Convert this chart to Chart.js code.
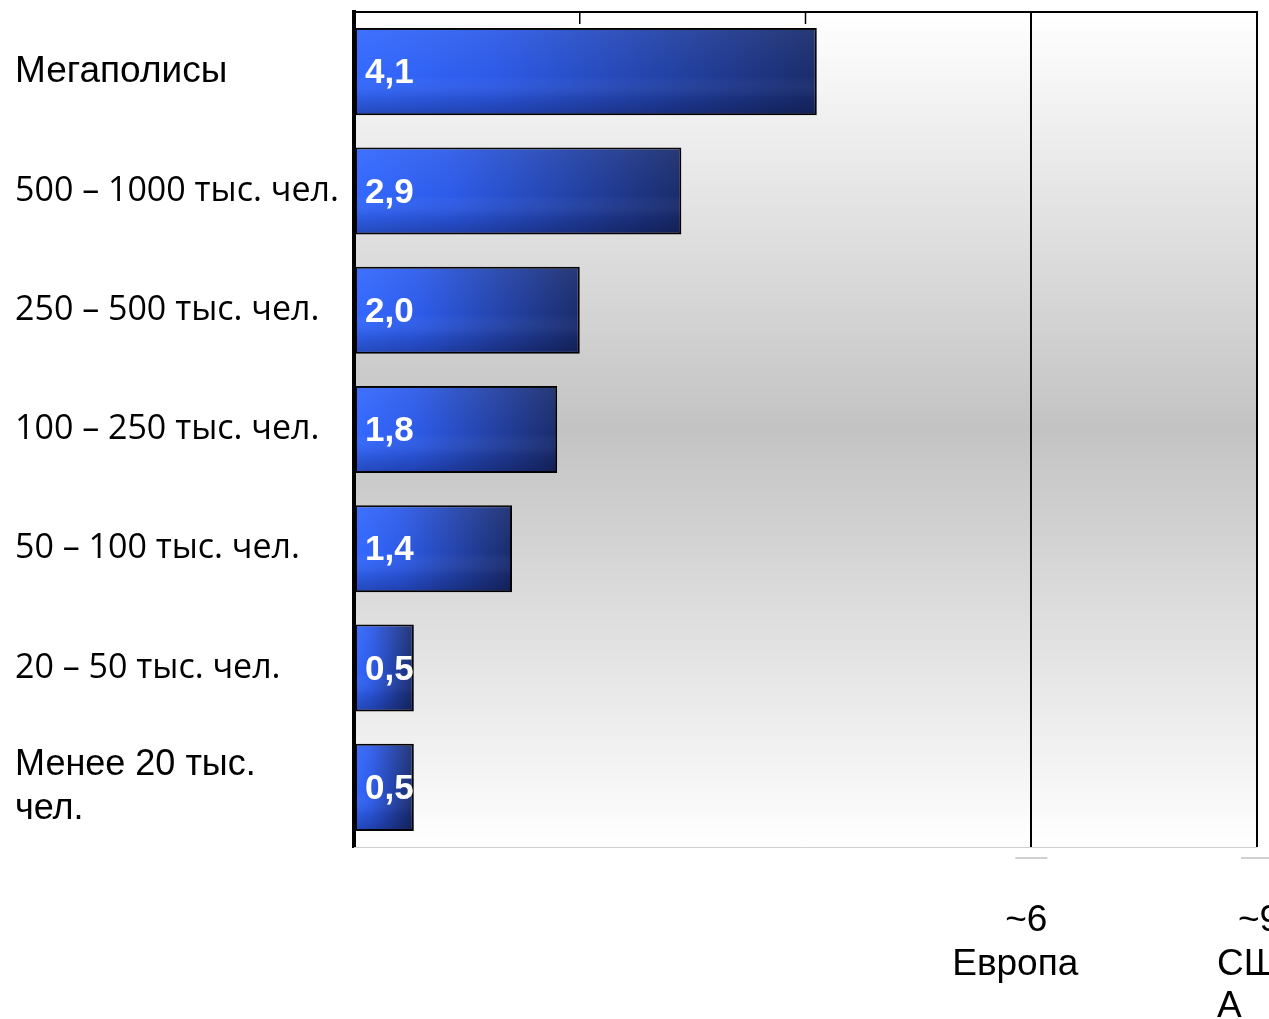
<!DOCTYPE html>
<html>
<head>
<meta charset="utf-8">
<script src="https://cdn.jsdelivr.net/npm/chart.js@4/dist/chart.umd.min.js"></script>
<style>
  html, body { margin: 0; padding: 0; background: #fff; }
  #wrap { width: 1269px; height: 1019px; position: relative; }
</style>
</head>
<body>
<div id="wrap"><canvas id="chart"></canvas></div>
<script>
// data
const categories = [
    'Мегаполисы',
    '500 – 1000 тыс. чел.',
    '250 – 500 тыс. чел.',
    '100 – 250 тыс. чел.',
    '50 – 100 тыс. чел.',
    '20 – 50 тыс. чел.',
    ['Менее 20 тыс.', 'чел.'],
];
// bar lengths as drawn (the two small bars are drawn a bit longer than 0,5)
const values = [4.1, 2.9, 2.0, 1.8, 1.4, 0.53, 0.53];
const valueLabels = ['4,1', '2,9', '2,0', '1,8', '1,4', '0,5', '0,5'];
const axisTicks = [2, 4, 6];
const refValues = [6, 8];          // vertical reference lines (Europe, right edge = USA)
const refLabels = [['~6', 'Европа'], ['~9', 'СШ', 'А']];

// plot background: white -> gray -> white
const plotBackground = {
    id: 'plotBackground',
    beforeDraw(chart) {
        const { ctx, chartArea: a } = chart;
        const g = ctx.createLinearGradient(0, a.top, 0, a.bottom);
        g.addColorStop(0, '#ffffff');
        g.addColorStop(0.5, '#c3c3c3');
        g.addColorStop(1, '#ffffff');
        ctx.save();
        ctx.fillStyle = g;
        ctx.fillRect(a.left, a.top, a.right - a.left, a.bottom - a.top);
        ctx.restore();
    },
};

// bar shading, value labels, top ticks, bottom notes
const decorations = {
    id: 'decorations',
    afterDatasetsDraw(chart) {
        const { ctx, chartArea: a } = chart;
        const xs = chart.scales.x;
        const meta = chart.getDatasetMeta(0);
        ctx.save();

        meta.data.forEach((bar, i) => {
            const top = bar.y - bar.height / 2;
            const h = bar.height;
            const g = ctx.createLinearGradient(0, top, 0, top + h);
            g.addColorStop(0, 'rgba(255,255,255,0.06)');
            g.addColorStop(0.55, 'rgba(255,255,255,0)');
            g.addColorStop(0.8, 'rgba(0,0,30,0.12)');
            g.addColorStop(1, 'rgba(0,0,30,0.3)');
            ctx.fillStyle = g;
            ctx.fillRect(bar.base + 1, top + 1, bar.x - bar.base - 2, h - 2);

            ctx.fillStyle = '#ffffff';
            ctx.font = 'bold 35px "Liberation Sans", Arial, sans-serif';
            ctx.textAlign = 'left';
            ctx.textBaseline = 'middle';
            ctx.fillText(valueLabels[i], bar.base + 10, bar.y + 2);
        });

        // short ticks hanging from the top axis
        ctx.strokeStyle = '#000';
        ctx.lineWidth = 1.5;
        axisTicks.forEach(v => {
            const px = xs.getPixelForValue(v);
            ctx.beginPath();
            ctx.moveTo(px, a.top);
            ctx.lineTo(px, a.top + 12);
            ctx.stroke();
        });

        // bottom edge of the plot
        ctx.strokeStyle = '#cfcfcf';
        ctx.lineWidth = 1;
        ctx.beginPath();
        ctx.moveTo(a.left, a.bottom + 0.5);
        ctx.lineTo(a.right, a.bottom + 0.5);
        ctx.stroke();

        // notes under the reference lines
        ctx.fillStyle = '#000';
        ctx.font = '37px "Liberation Sans", Arial, sans-serif';
        ctx.textBaseline = 'alphabetic';
        refValues.forEach((v, k) => {
            const px = xs.getPixelForValue(v);
            ctx.strokeStyle = '#d0d0d0';
            ctx.lineWidth = 2;
            ctx.beginPath();
            ctx.moveTo(px - 16, a.bottom + 11);
            ctx.lineTo(px + 16, a.bottom + 11);
            ctx.stroke();

            const lines = refLabels[k];
            if (k === 0) {
                ctx.textAlign = 'center';
                ctx.fillText(lines[0], px - 5, a.bottom + 84);
                ctx.fillText(lines[1], px - 16, a.bottom + 128);
            } else {
                ctx.textAlign = 'left';
                ctx.fillText(lines[0], px - 19, a.bottom + 84);
                ctx.fillText(lines[1], px - 40, a.bottom + 128);
                ctx.fillText(lines[2], px - 40, a.bottom + 170);
            }
        });
        ctx.restore();
    },
};

function barGradient(c) {
    const chart = c.chart;
    if (!chart.chartArea) return '#2a4fd8';
    const xs = chart.scales.x;
    const x0 = xs.getPixelForValue(0);
    const x1 = xs.getPixelForValue(values[c.dataIndex]);
    const g = chart.ctx.createLinearGradient(x0, 0, x1, 0);
    g.addColorStop(0, '#3469ff');
    g.addColorStop(0.3, '#2d5be8');
    g.addColorStop(1, '#1a2c6c');
    return g;
}

new Chart(document.getElementById('chart'), {
    type: 'bar',
    data: {
        labels: categories,
        datasets: [{
            data: values,
            backgroundColor: barGradient,
            borderColor: '#000',
            borderWidth: 2,
            borderSkipped: false,
            barPercentage: 0.73,
            categoryPercentage: 1,
        }],
    },
    options: {
        indexAxis: 'y',
        responsive: true,
        maintainAspectRatio: false,
        animation: false,
        layout: { padding: { left: 15, right: 12, top: 12, bottom: 172 } },
        plugins: { legend: { display: false }, tooltip: { enabled: false } },
        scales: {
            x: {
                position: 'top',
                min: 0,
                max: 8,
                ticks: { display: false, stepSize: 2 },
                grid: {
                    drawTicks: false,
                    lineWidth: 2,
                    color: c => refValues.includes(c.tick && c.tick.value) ? '#000' : 'rgba(0,0,0,0)',
                },
                border: { color: '#000', width: 2 },
                afterFit: s => { s.height = 0; s.paddingLeft = 0; s.paddingRight = 0; },
            },
            y: {
                ticks: {
                    crossAlign: 'far',
                    color: '#000',
                    padding: 0,
                    font: c => {
                        if (c.index === 0) return { family: '"Liberation Sans", Arial, sans-serif', size: 37 };
                        if (c.index === 6) return { family: '"Liberation Sans", Arial, sans-serif', size: 36, lineHeight: 1.22 };
                        return { family: '"Open Sans", sans-serif', size: 34 };
                    },
                },
                grid: { display: false, drawTicks: false },
                border: { color: '#000', width: 4 },
                afterFit: s => { s.width = 339; s.paddingTop = 0; s.paddingBottom = 0; },
            },
        },
    },
    plugins: [plotBackground, decorations],
});
</script>
</body>
</html>
